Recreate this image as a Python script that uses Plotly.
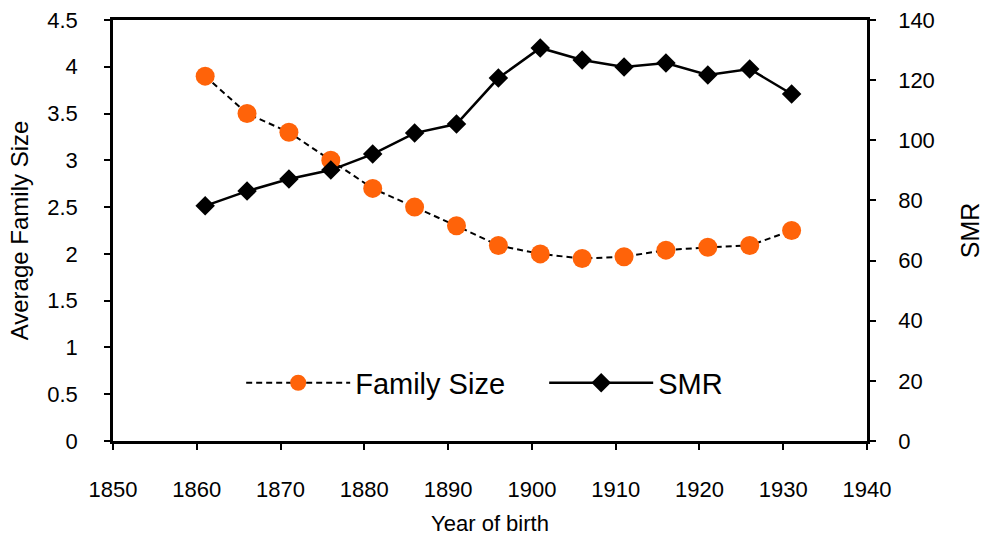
import plotly.graph_objects as go

years = [1861, 1866, 1871, 1876, 1881, 1886, 1891, 1896, 1901, 1906, 1911, 1916, 1921, 1926, 1931]
family_size = [3.9, 3.5, 3.3, 3.0, 2.7, 2.5, 2.3, 2.09, 2.0, 1.95, 1.97, 2.04, 2.07, 2.09, 2.25]
smr = [78.2, 83.1, 87.1, 90.1, 95.4, 102.4, 105.4, 120.7, 130.7, 126.7, 124.4, 125.7, 121.7, 123.7, 115.4]

FONT = "Liberation Sans, Arial, sans-serif"

fig = go.Figure()
fig.add_trace(go.Scatter(
    x=years, y=family_size, name="Family Size", mode="lines+markers",
    line=dict(color="black", width=2, dash="6px,4px"),
    marker=dict(symbol="circle", size=19, color="#FF6309"),
    yaxis="y",
))
fig.add_trace(go.Scatter(
    x=years, y=smr, name="SMR", mode="lines+markers",
    line=dict(color="black", width=2.5),
    marker=dict(symbol="diamond", size=15, color="black"),
    yaxis="y2",
))

fig.update_layout(
    width=984, height=536,
    margin=dict(l=113, r=117, t=20, b=95, autoexpand=False),
    paper_bgcolor="white", plot_bgcolor="white",
    font=dict(family=FONT, color="black", size=22),
    xaxis=dict(
        range=[1850, 1940], dtick=10, tick0=1850, automargin=False,
        showline=True, linecolor="black", linewidth=2.5, mirror=True,
        ticks="outside", ticklen=6, tickwidth=2, tickcolor="black",
        showgrid=False, zeroline=False,
        tickfont=dict(size=22), ticklabelstandoff=21,
        title=dict(text="Year of birth", font=dict(size=22), standoff=15),
    ),
    yaxis=dict(
        range=[0, 4.5], dtick=0.5, tick0=0, automargin=False,
        showline=True, linecolor="black", linewidth=2.5,
        ticks="outside", ticklen=6, tickwidth=2, tickcolor="black",
        showgrid=False, zeroline=False,
        tickfont=dict(size=22), ticklabelstandoff=22,
        title=dict(text="Average Family Size", font=dict(size=24), standoff=12),
    ),
    yaxis2=dict(
        range=[0, 140], dtick=20, tick0=0, overlaying="y", side="right", automargin=False,
        showline=True, linecolor="black", linewidth=2.5,
        ticks="outside", ticklen=6, tickwidth=2, tickcolor="black",
        showgrid=False, zeroline=False,
        tickfont=dict(size=22), ticklabelstandoff=18,
        title=dict(text="SMR", font=dict(size=25), standoff=28),
    ),
    legend=dict(
        orientation="h", x=0.170, y=0.138, xanchor="left", yanchor="middle",
        font=dict(size=29), bgcolor="rgba(0,0,0,0)",
        itemwidth=104, entrywidth=184, entrywidthmode="pixels",
    ),
)

fig.write_html("out.html", config={"displayModeBar": False},
               post_script="document.body.style.margin='0px';")
